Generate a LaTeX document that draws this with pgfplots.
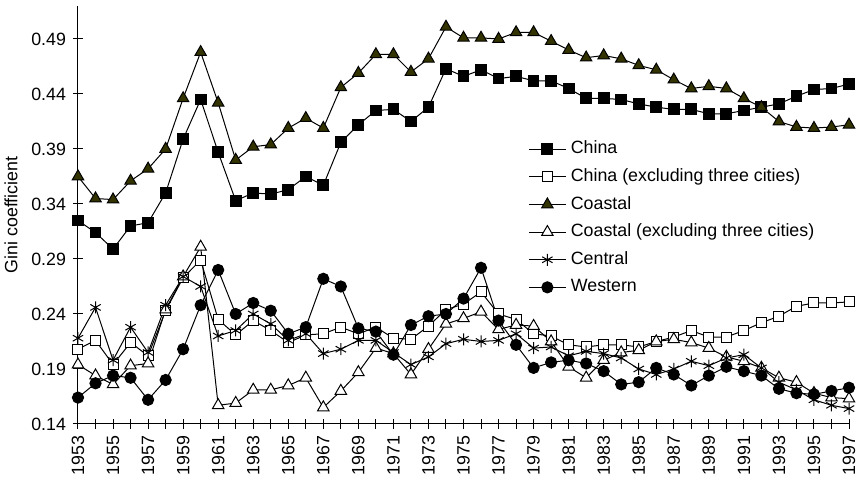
\documentclass[border=0pt]{standalone}
\usepackage{fontspec}
\setmainfont{Liberation Sans}
\usepackage{pgfplots}
\usepackage{pgfplotstable}
\pgfplotsset{compat=1.18}

\definecolor{coastalfill}{RGB}{51,51,0}

% Gini coefficients by year
\pgfplotstableread{
year china chinaex coastal coastalex central western
1953 0.325 0.208 0.365 0.194 0.218 0.164
1954 0.314 0.216 0.345 0.184 0.246 0.177
1955 0.299 0.194 0.344 0.176 0.198 0.184
1956 0.320 0.214 0.361 0.193 0.228 0.182
1957 0.323 0.202 0.372 0.195 0.205 0.162
1958 0.350 0.243 0.390 0.244 0.248 0.180
1959 0.399 0.273 0.436 0.274 0.274 0.208
1960 0.435 0.289 0.478 0.301 0.265 0.248
1961 0.387 0.235 0.432 0.157 0.220 0.280
1962 0.343 0.221 0.380 0.159 0.225 0.240
1963 0.350 0.234 0.392 0.171 0.240 0.250
1964 0.349 0.225 0.394 0.171 0.231 0.243
1965 0.353 0.214 0.409 0.175 0.216 0.222
1966 0.365 0.221 0.418 0.182 0.222 0.228
1967 0.357 0.222 0.409 0.155 0.204 0.272
1968 0.396 0.228 0.446 0.170 0.208 0.265
1969 0.412 0.222 0.459 0.187 0.216 0.227
1970 0.425 0.228 0.476 0.209 0.216 0.224
1971 0.426 0.218 0.476 0.204 0.205 0.203
1972 0.415 0.217 0.460 0.185 0.194 0.230
1973 0.428 0.229 0.472 0.208 0.201 0.238
1974 0.463 0.244 0.501 0.231 0.213 0.240
1975 0.456 0.249 0.491 0.236 0.217 0.254
1976 0.462 0.260 0.491 0.242 0.215 0.282
1977 0.454 0.240 0.490 0.226 0.216 0.234
1978 0.456 0.235 0.496 0.230 0.222 0.212
1979 0.452 0.222 0.496 0.229 0.209 0.191
1980 0.452 0.220 0.488 0.215 0.210 0.196
1981 0.445 0.212 0.480 0.192 0.202 0.198
1982 0.436 0.210 0.473 0.182 0.206 0.195
1983 0.436 0.212 0.475 0.198 0.204 0.188
1984 0.435 0.212 0.472 0.205 0.200 0.176
1985 0.431 0.210 0.466 0.207 0.190 0.178
1986 0.428 0.215 0.462 0.215 0.185 0.191
1987 0.426 0.219 0.453 0.217 0.190 0.185
1988 0.426 0.225 0.445 0.214 0.197 0.175
1989 0.422 0.219 0.447 0.209 0.193 0.184
1990 0.422 0.219 0.445 0.201 0.200 0.192
1991 0.425 0.225 0.436 0.197 0.203 0.188
1992 0.428 0.232 0.428 0.191 0.191 0.184
1993 0.431 0.238 0.415 0.182 0.178 0.172
1994 0.438 0.247 0.410 0.178 0.171 0.168
1995 0.444 0.250 0.409 0.168 0.162 0.167
1996 0.445 0.250 0.410 0.164 0.157 0.170
1997 0.449 0.251 0.412 0.163 0.154 0.173
}\ginidata

\begin{document}
\begin{tikzpicture}[font=\fontsize{8.9}{10.7}\selectfont]
\begin{axis}[
  scale only axis,
  width=385.5pt, height=209pt,
  xmin=1953, xmax=1997,
  ymin=0.14, ymax=0.52,
  axis lines*=left,
  axis line style={line width=0.5pt},
  xtick={1953,1955,...,1997},
  minor xtick={1954,1956,...,1996},
  ytick={0.14,0.19,0.24,0.29,0.34,0.39,0.44,0.49},
  tick align=center,
  major tick length=5pt, minor tick length=5pt,
  every tick/.style={black, line width=0.5pt},
  /pgf/number format/assume math mode=true,
  xticklabel style={rotate=90, anchor=east, /pgf/number format/1000 sep={}},
  yticklabel style={/pgf/number format/.cd, fixed, fixed zerofill, precision=2},
  ylabel={Gini coefficient},
  clip=false,
  legend style={draw=none, fill=none, inner sep=0pt,
    at={(0.584,0.691)}, anchor=north west, row sep=0pt,
    nodes={inner sep=2.4pt, text height=6.75pt, text depth=2.25pt}},
  legend cell align=left,
  legend image code/.code={%
    \draw[mark repeat=2, mark phase=2]
      plot coordinates {(0cm,0cm) (0.32cm,0cm) (0.64cm,0cm)};},
  every axis plot/.append style={black, line width=0.5pt},
]
\coordinate (pa) at (rel axis cs:0,0);
\coordinate (pb) at (rel axis cs:1,1);

\addplot[mark=square*, mark size=2.7pt, mark options={fill=black}]
  table[x=year, y=china] {\ginidata};
\addlegendentry{China}

\addplot[mark=square*, mark size=2.5pt, mark options={fill=white}]
  table[x=year, y=chinaex] {\ginidata};
\addlegendentry{China (excluding three cities)}

\addplot[mark=triangle*, mark size=3.3pt, mark options={fill=coastalfill}]
  table[x=year, y=coastal] {\ginidata};
\addlegendentry{Coastal}

\addplot[mark=triangle*, mark size=3.3pt, mark options={fill=white}]
  table[x=year, y=coastalex] {\ginidata};
\addlegendentry{Coastal (excluding three cities)}

\addplot[mark=asterisk, mark size=3pt]
  table[x=year, y=central] {\ginidata};
\addlegendentry{Central}

\addplot[mark=*, mark size=2.8pt, mark options={fill=black}]
  table[x=year, y=western] {\ginidata};
\addlegendentry{Western}
\end{axis}
\pgfresetboundingbox
\path ([shift={(-39pt,-26.5pt)}]pa) rectangle ([shift={(5pt,3pt)}]pb);
\end{tikzpicture}
\end{document}
